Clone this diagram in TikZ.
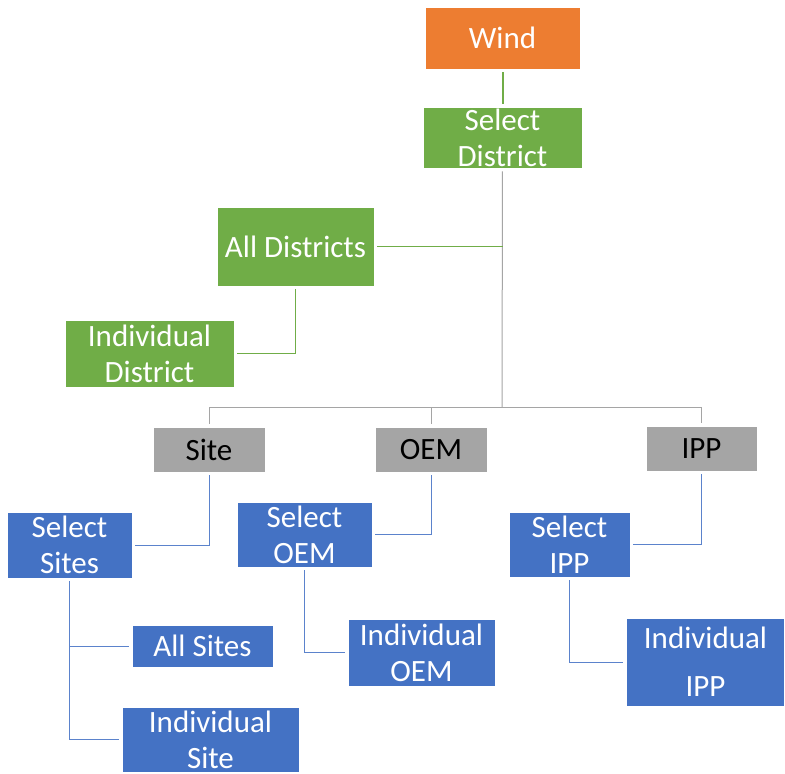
\documentclass[tikz,border=0pt]{standalone}
\usepackage{fontspec}
\setmainfont{Carlito}
\definecolor{orangeC}{HTML}{ED7D31}
\definecolor{greenC}{HTML}{70AD47}
\definecolor{grayC}{HTML}{A5A5A5}
\definecolor{blueC}{HTML}{4472C4}
\definecolor{blueL}{HTML}{5B83CC}
\tikzset{
  box/.style={rectangle, draw=white, line width=0.8pt, inner sep=0pt, align=center,
              text=white, font={\fontsize{31}{36}\selectfont}},
  obox/.style={box, fill=orangeC},
  gbox/.style={box, fill=greenC},
  graybox/.style={box, fill=grayC, text=black},
  bbox/.style={box, fill=blueC},
  lnk/.style={line width=1pt, shorten <=3pt, shorten >=3pt},
  glnk/.style={lnk, draw=greenC},
  graylnk/.style={line width=1pt, draw=grayC},
  blnk/.style={lnk, draw=blueL},
}
\begin{document}
\begin{tikzpicture}[x=1pt, y=-1pt]
\useasboundingbox[fill=white] (0,0) rectangle (785,774);
% nodes
\node[obox, minimum width=155pt, minimum height=62pt] (wind) at (502.5,38) {Wind};
\node[gbox, minimum width=159pt, minimum height=61pt] (seld) at (502.5,137.5) {Select\\District};
\node[gbox, minimum width=157pt, minimum height=79pt] (alld) at (295.5,246.5) {All Districts};
\node[gbox, minimum width=169pt, minimum height=67pt] (indd) at (149.5,353.5) {Individual\\District};
\node[graybox, minimum width=112pt, minimum height=45pt] (site) at (209,449.5) {Site};
\node[graybox, minimum width=112pt, minimum height=45pt] (oem) at (431,449.5) {OEM};
\node[graybox, minimum width=111pt, minimum height=45pt] (ipp) at (701.5,448.5) {IPP};
\node[bbox, minimum width=125pt, minimum height=66pt] (sels) at (69.5,545) {Select\\Sites};
\node[bbox, minimum width=135pt, minimum height=65pt] (selo) at (304.5,534.5) {Select\\OEM};
\node[bbox, minimum width=121pt, minimum height=65pt] (seli) at (569.5,544.5) {Select\\IPP};
\node[bbox, minimum width=141pt, minimum height=42pt] (alls) at (202.5,646) {All Sites};
\node[bbox, minimum width=177pt, minimum height=65pt] (inds) at (210.5,739.5) {Individual\\Site};
\node[bbox, minimum width=147pt, minimum height=67pt] (indo) at (421.5,652.5) {Individual\\OEM};
\node[bbox, minimum width=158pt, minimum height=88pt, font={\fontsize{31}{48}\selectfont}] (indi) at (705.5,662) {Individual\\IPP};
\coordinate (bus) at (502,407);
% connectors
\draw[glnk, line width=2pt] (wind.south) -- (seld.north);
\draw[graylnk, shorten <=3pt] (seld.south) -- (bus);
\draw[graylnk] (bus) -- (site.north |- bus) -- ([yshift=3pt]site.north);
\draw[graylnk] (bus) -- (ipp.north |- bus) -- ([yshift=3pt]ipp.north);
\draw[graylnk] (oem.north |- bus) -- ([yshift=3pt]oem.north);
\draw[glnk, shorten >=0pt] (alld.east) -- (alld.east -| seld.south);
\draw[glnk] (alld.south) |- (indd.east);
\draw[blnk] (site.south) |- (sels.east);
\draw[blnk] (oem.south) |- (selo.east);
\draw[blnk] (ipp.south) |- (seli.east);
\draw[blnk] (sels.south) |- (alls.west);
\draw[blnk] (sels.south) |- (inds.west);
\draw[blnk] (selo.south) |- (indo.west);
\draw[blnk] (seli.south) |- (indi.west);
\end{tikzpicture}
\end{document}
